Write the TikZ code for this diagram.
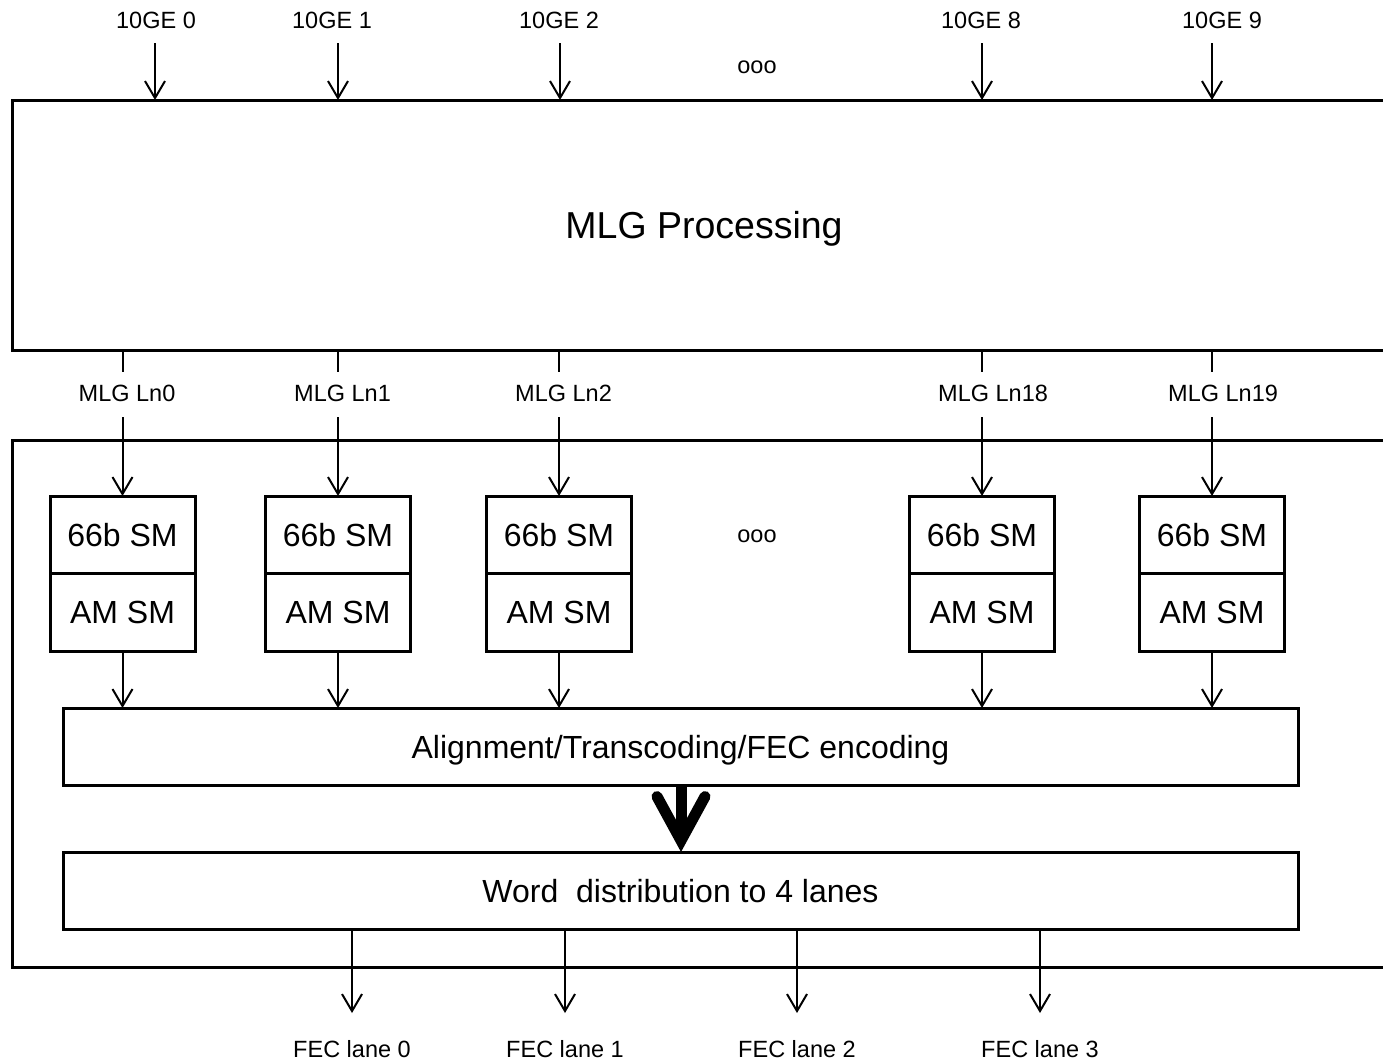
\documentclass[tikz,border=0pt]{standalone}
\usepackage{fontspec}
\setmainfont{Liberation Sans}
\usetikzlibrary{arrows.meta}
\begin{document}
\begin{tikzpicture}[x=1pt,y=-1pt,
 bigbox/.style={draw,line width=3pt,inner sep=0pt,outer sep=0pt,minimum width=1384pt,text depth=0pt},
 smbox/.style={draw,line width=3pt,inner sep=0pt,outer sep=0pt,minimum width=145pt,minimum height=77.5pt,font=\fontsize{32}{38}\selectfont},
 procbox/.style={draw,line width=3pt,inner sep=0pt,outer sep=0pt,minimum width=1235pt,minimum height=77pt,text depth=0pt,font=\fontsize{32}{38}\selectfont},
 lbl/.style={inner sep=0pt,font=\fontsize{23.5}{28}\selectfont},
 arr/.style={line width=2pt,-{Straight Barb[length=17pt,width=20pt]}},
 wire/.style={line width=2pt},
 fat/.style={line width=11pt,-{Straight Barb[length=44pt,width=48pt,line cap=round]}}
]
\useasboundingbox (0,0) rectangle (1383,1061);
\clip (0,0) rectangle (1383,1061);

% big boxes
\node[bigbox,minimum height=250pt,font=\fontsize{37.5}{44}\selectfont] (mlg) at (704,225) {MLG Processing};
\node[bigbox,minimum height=527pt] (core) at (704,703.5) {};

% inputs
\foreach \x/\lx/\n in {155/156/0, 338/332/1, 560/559/2, 982/981/8, 1212/1222/9}{
  \node[lbl] (ge\n) at (\lx,20) {10GE \n};
  \coordinate (t\n) at (\x,43);
  \draw[arr] (t\n) -- (t\n |- mlg.north);
}
\node[lbl] (dotsA) at (757,67) {ooo};

% lanes
\foreach \x/\n in {122.5/0, 338/1, 559/2, 982/18, 1212/19}{
  \node[lbl,anchor=west] (ln\n) at (\x-44,393) {MLG Ln\n};
  \coordinate (u\n) at (\x,372);
  \coordinate (v\n) at (\x,417);
  \draw[wire] (mlg.south -| u\n) -- (u\n);
  \node[smbox] (s\n) at (\x,534.75) {66b SM};
  \node[smbox] (m\n) at (\x,612.25) {AM SM};
  \draw[arr] (v\n) -- (s\n.north);
}
\node[lbl] (dotsB) at (757,536) {ooo};

% processing boxes
\node[procbox] (align) at (680.5,746.5) {Alignment/Transcoding/FEC encoding};
\node[procbox] (word) at (680.5,890.5) {Word\ \ distribution to 4 lanes};

\foreach \n in {0,1,2,18,19}{
  \draw[arr] (m\n.south) -- (m\n.south |- align.north);
}

\coordinate (fx) at (681,0);
\draw[fat] (align.south -| fx) -- (word.north -| fx);

% outputs
\foreach \x/\n in {352/0, 565/1, 797/2, 1040/3}{
  \coordinate (f\n) at (\x,1013);
  \draw[arr] (word.south -| f\n) -- (f\n);
  \node[lbl] (fec\n) at (\x,1049) {FEC lane \n};
}
\end{tikzpicture}
\end{document}
